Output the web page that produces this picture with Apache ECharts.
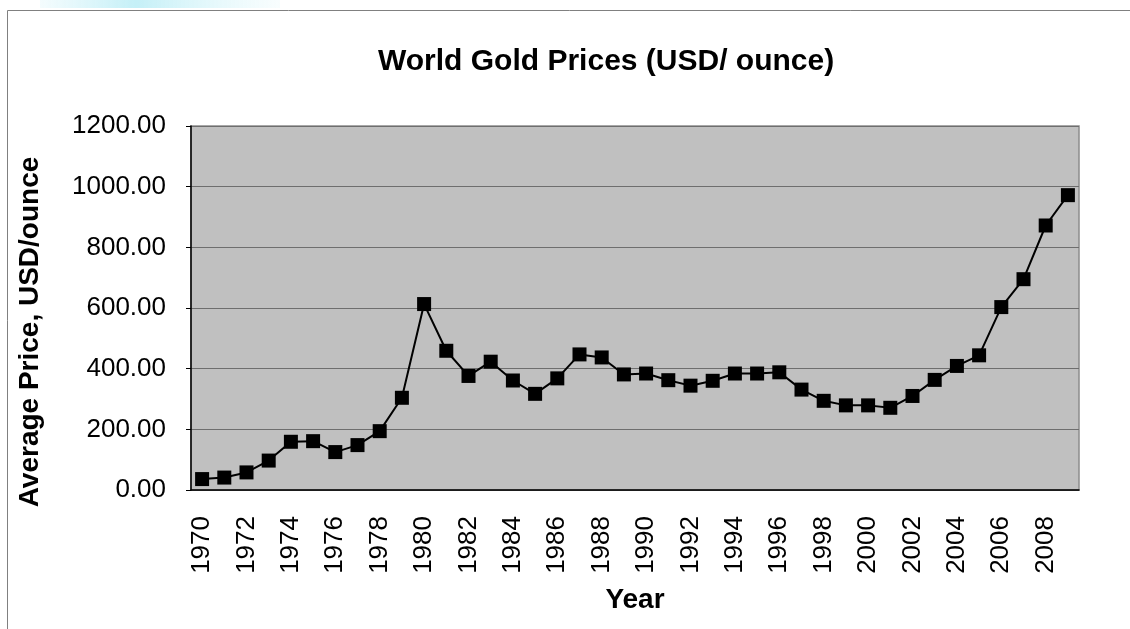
<!DOCTYPE html>
<html>
<head>
<meta charset="utf-8">
<script src="https://cdn.jsdelivr.net/npm/echarts@6/dist/echarts.min.js"></script>
<style>
html, body { margin: 0; padding: 0; background: #fff; }
#main { width: 1130px; height: 629px; }
</style>
</head>
<body>
<div id="main"></div>
<script>
var years = [];
for (var y = 1970; y <= 2009; y++) years.push(String(y));
var prices = [36, 41, 58, 97, 159, 161, 125, 148, 194, 304,
              613, 459, 376, 423, 361, 317, 368, 447, 437, 381,
              384, 362, 344, 360, 384, 384, 388, 331, 294, 279,
              279, 271, 310, 363, 409, 444, 603, 695, 872, 972];

var myChart = echarts.init(document.getElementById('main'));
var font = 'Liberation Sans, Arial, sans-serif';
option = {
    animation: false,
    title: {
        text: 'World Gold Prices (USD/ ounce)',
        left: 373,
        top: 42,
        textStyle: { fontFamily: font, fontSize: 30, fontWeight: 'bold', color: '#000' }
    },
    graphic: [{
        // faint smudge at the top-left of the picture
        type: 'rect',
        shape: { x: 40, y: 0, width: 240, height: 8 },
        style: {
            fill: new echarts.graphic.LinearGradient(0, 0, 1, 0, [
                { offset: 0, color: 'rgba(200,240,248,0.2)' },
                { offset: 0.4, color: 'rgba(190,238,246,0.9)' },
                { offset: 1, color: 'rgba(220,246,250,0.2)' }
            ])
        },
        z: -2
    }, {
        type: 'rect',
        shape: { x: 7.5, y: 10.5, width: 1140, height: 640 },
        style: { fill: null, stroke: '#808080', lineWidth: 1 },
        z: -1
    }],
    grid: {
        left: 191,
        right: 51,
        top: 126,
        bottom: 139,
        show: true,
        backgroundColor: '#c0c0c0',
        borderColor: '#8c8c8c',
        borderWidth: 1.5
    },
    xAxis: {
        type: 'category',
        data: years,
        name: 'Year',
        nameLocation: 'middle',
        nameGap: 96,
        nameTextStyle: { fontFamily: font, fontSize: 28, fontWeight: 'bold', color: '#000' },
        axisLine: { lineStyle: { color: '#000', width: 1.5 } },
        axisTick: { interval: 0, length: 6, lineStyle: { color: '#000' } },
        axisLabel: {
            interval: 1,
            rotate: 90,
            margin: 26,
            fontFamily: font,
            fontSize: 26,
            color: '#000'
        }
    },
    yAxis: {
        type: 'value',
        min: 0,
        max: 1200,
        interval: 200,
        name: 'Average Price, USD/ounce',
        nameLocation: 'middle',
        nameGap: 147,
        nameTextStyle: {
            fontFamily: font, fontSize: 28, fontWeight: 'bold', color: '#000',
            padding: [0, 48, 0, 0]
        },
        axisLine: { show: true, lineStyle: { color: '#000', width: 1.5 } },
        axisTick: { show: true, length: 5, lineStyle: { color: '#000' } },
        axisLabel: {
            margin: 25,
            fontFamily: font,
            fontSize: 26,
            color: '#000',
            formatter: function (v) { return v.toFixed(2); }
        },
        splitLine: { lineStyle: { color: '#6e6e6e', width: 1 } }
    },
    series: [{
        name: 'Price',
        type: 'line',
        data: prices,
        symbol: 'rect',
        symbolSize: 14,
        itemStyle: { color: '#000' },
        lineStyle: { color: '#000', width: 2 }
    }]
};
myChart.setOption(option);
</script>
</body>
</html>
